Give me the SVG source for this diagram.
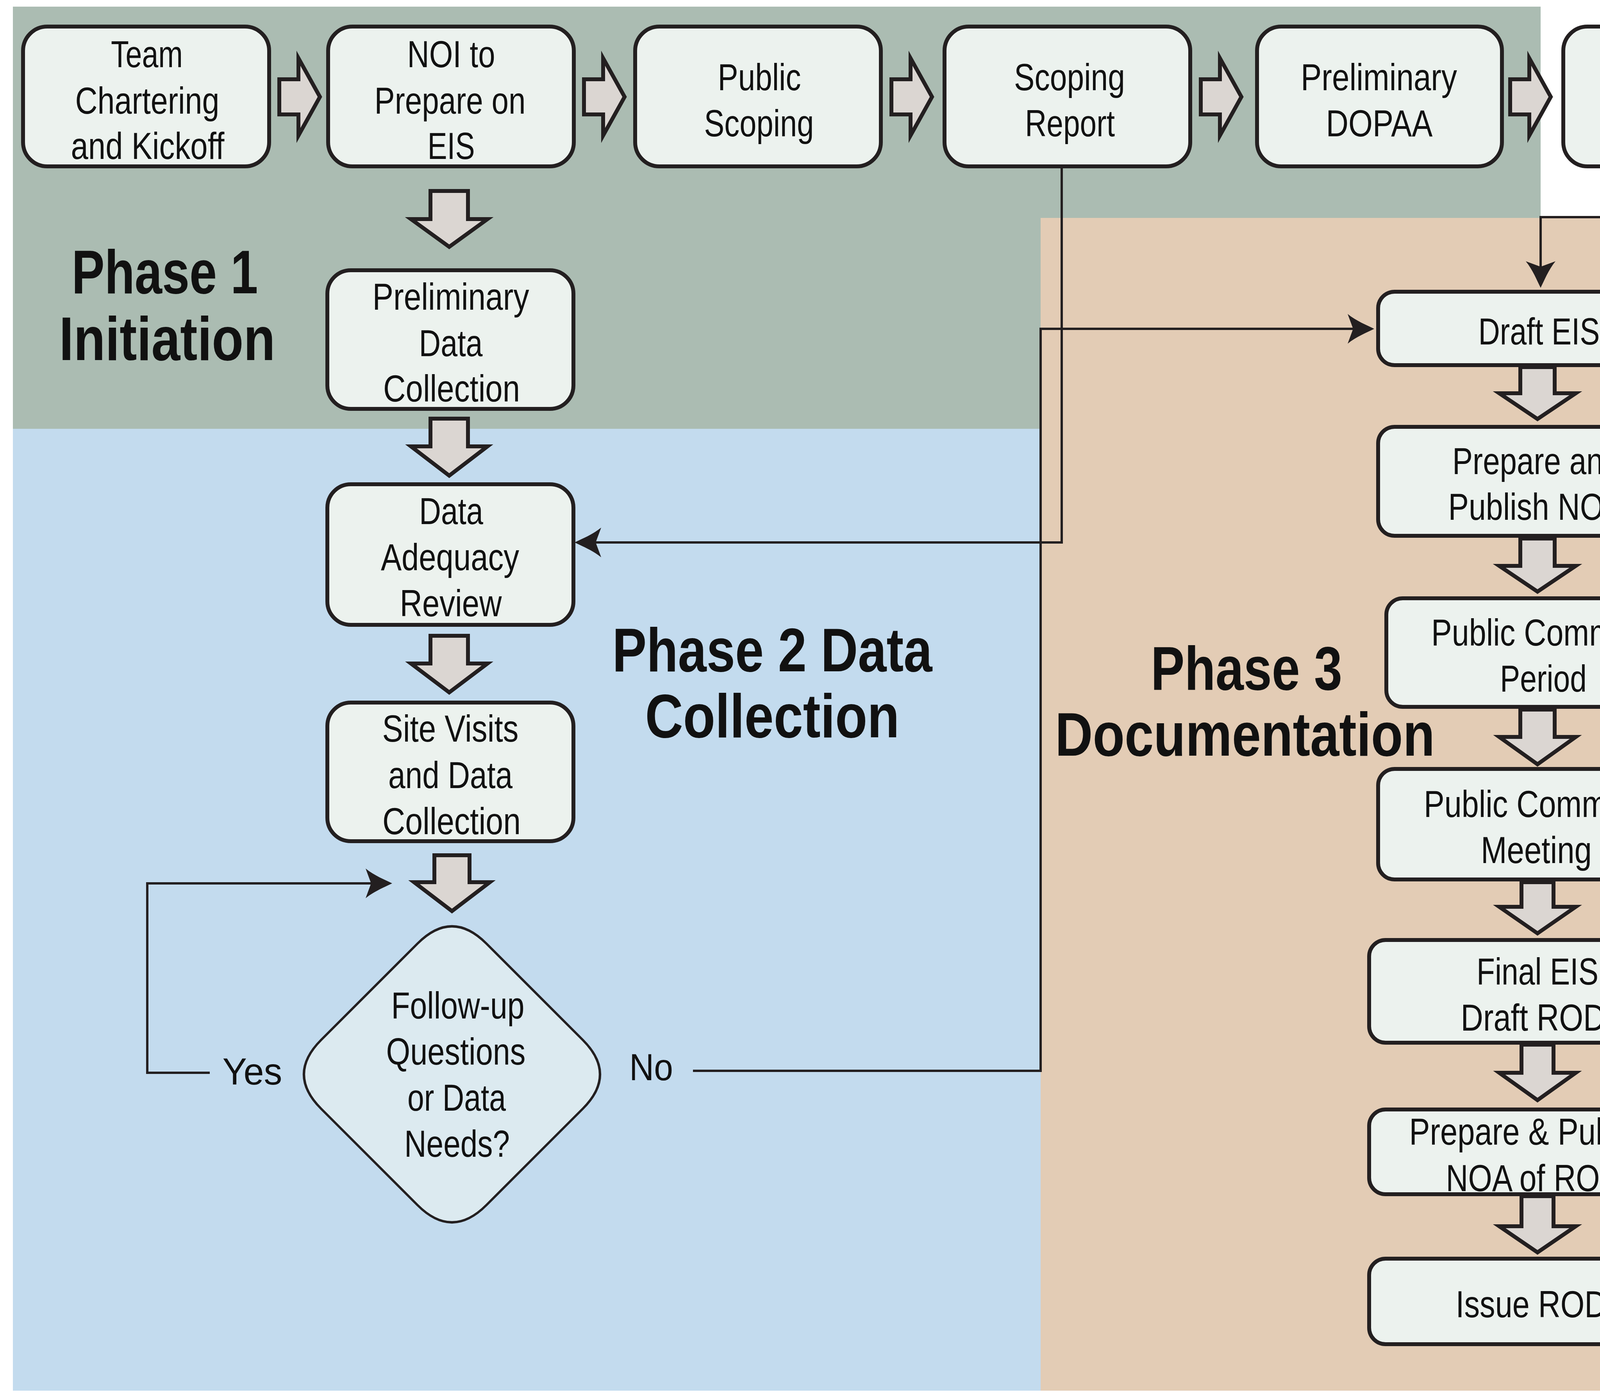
<svg xmlns="http://www.w3.org/2000/svg" width="5185" height="3567" viewBox="0 0 5185 3567">
<style>
.node{fill:#ecf2ee;stroke:#231f20;stroke-width:10}
.dia{fill:#dceaf0;stroke:#231f20;stroke-width:6}
.blk{fill:#dbd6d2;stroke:#231f20;stroke-width:10;stroke-linejoin:miter}
.con{fill:none;stroke:#231f20;stroke-width:6}
.t{font-family:"Liberation Sans Narrow","Liberation Sans",Arial,sans-serif;font-size:96px;fill:#111;text-anchor:middle}
.h{font-family:"Liberation Sans Narrow","Liberation Sans",Arial,sans-serif;font-size:158px;font-weight:bold;fill:#111;text-anchor:middle}
</style>
<defs>
<marker id="ah" markerUnits="userSpaceOnUse" viewBox="0 0 70 80" refX="50" refY="40" markerWidth="70" markerHeight="80" orient="auto">
<path d="M70,40 C52,31 24,20 2,2 L16,40 L2,78 C24,60 52,49 70,40 Z" fill="#231f20"/>
</marker>
</defs>
<rect width="5185" height="3567" fill="#ffffff"/>
<g id="backgrounds">
<rect x="33" y="17" width="3911" height="1081" fill="#abbcb2"/>
<rect x="33" y="1098" width="2631" height="2463" fill="#c3dbee"/>
<rect x="2664" y="558" width="2521" height="3003" fill="#e3ccb5"/>
</g>
<g id="phase-labels">
<text class="h" x="422" y="751" textLength="477" lengthAdjust="spacingAndGlyphs">Phase 1</text>
<text class="h" x="428" y="922" textLength="553" lengthAdjust="spacingAndGlyphs">Initiation</text>
<text class="h" x="1977" y="1719" textLength="819" lengthAdjust="spacingAndGlyphs">Phase 2 Data</text>
<text class="h" x="1977" y="1888" textLength="651" lengthAdjust="spacingAndGlyphs">Collection</text>
<text class="h" x="3191" y="1766" textLength="490" lengthAdjust="spacingAndGlyphs">Phase 3</text>
<text class="h" x="3187" y="1935" textLength="972" lengthAdjust="spacingAndGlyphs">Documentation</text>
</g>
<g id="connectors">
<path class="con" d="M2718,431 V1389 H1491" marker-end="url(#ah)"/>
<path class="con" d="M4305,431 V556 H3944 V717" marker-end="url(#ah)"/>
<path class="con" d="M1774,2742 H2664 V842 H3498" marker-end="url(#ah)"/>
<path class="con" d="M537,2747 H377 V2262 H984" marker-end="url(#ah)"/>
</g>
<g id="n-team"><rect class="node" x="59" y="68" width="630" height="358" rx="62"/>
<text class="t" x="376" y="172" textLength="184" lengthAdjust="spacingAndGlyphs">Team</text>
<text class="t" x="377" y="291" textLength="369" lengthAdjust="spacingAndGlyphs">Chartering</text>
<text class="t" x="378" y="407" textLength="393" lengthAdjust="spacingAndGlyphs">and Kickoff</text></g>
<g id="n-noi"><rect class="node" x="840" y="68" width="629" height="358" rx="62"/>
<text class="t" x="1155" y="172" textLength="225" lengthAdjust="spacingAndGlyphs">NOI to</text>
<text class="t" x="1152" y="291" textLength="387" lengthAdjust="spacingAndGlyphs">Prepare on</text>
<text class="t" x="1155" y="407" textLength="121" lengthAdjust="spacingAndGlyphs">EIS</text></g>
<g id="n-public-scoping"><rect class="node" x="1626" y="68" width="629" height="358" rx="62"/>
<text class="t" x="1944" y="231" textLength="213" lengthAdjust="spacingAndGlyphs">Public</text>
<text class="t" x="1943" y="349" textLength="281" lengthAdjust="spacingAndGlyphs">Scoping</text></g>
<g id="n-scoping-report"><rect class="node" x="2418" y="68" width="629" height="358" rx="62"/>
<text class="t" x="2738" y="231" textLength="284" lengthAdjust="spacingAndGlyphs">Scoping</text>
<text class="t" x="2739" y="349" textLength="230" lengthAdjust="spacingAndGlyphs">Report</text></g>
<g id="n-prelim-dopaa"><rect class="node" x="3218" y="68" width="627" height="358" rx="62"/>
<text class="t" x="3530" y="231" textLength="400" lengthAdjust="spacingAndGlyphs">Preliminary</text>
<text class="t" x="3531" y="349" textLength="273" lengthAdjust="spacingAndGlyphs">DOPAA</text></g>
<g id="n-final-dopaa"><rect class="node" x="4002" y="68" width="628" height="358" rx="62"/>
<text class="t" x="4318" y="231" textLength="165" lengthAdjust="spacingAndGlyphs">Final</text>
<text class="t" x="4321" y="349" textLength="273" lengthAdjust="spacingAndGlyphs">DOPAA</text></g>
<g id="n-prelim-data"><rect class="node" x="838" y="692" width="630" height="355" rx="60"/>
<text class="t" x="1154" y="793" textLength="401" lengthAdjust="spacingAndGlyphs">Preliminary</text>
<text class="t" x="1154" y="912" textLength="163" lengthAdjust="spacingAndGlyphs">Data</text>
<text class="t" x="1156" y="1028" textLength="350" lengthAdjust="spacingAndGlyphs">Collection</text></g>
<g id="n-data-adequacy"><rect class="node" x="838" y="1240" width="630" height="360" rx="60"/>
<text class="t" x="1155" y="1342" textLength="164" lengthAdjust="spacingAndGlyphs">Data</text>
<text class="t" x="1152" y="1460" textLength="354" lengthAdjust="spacingAndGlyphs">Adequacy</text>
<text class="t" x="1154" y="1578" textLength="261" lengthAdjust="spacingAndGlyphs">Review</text></g>
<g id="n-site-visits"><rect class="node" x="838" y="1799" width="630" height="355" rx="60"/>
<text class="t" x="1153" y="1899" textLength="349" lengthAdjust="spacingAndGlyphs">Site Visits</text>
<text class="t" x="1153" y="2018" textLength="318" lengthAdjust="spacingAndGlyphs">and Data</text>
<text class="t" x="1156" y="2136" textLength="354" lengthAdjust="spacingAndGlyphs">Collection</text></g>
<g id="n-decision"><path class="dia" d="M1069,2416 Q1157,2328 1245,2416 L1492,2663 Q1580,2751 1492,2839 L1245,3086 Q1157,3174 1069,3086 L822,2839 Q734,2751 822,2663 Z"/>
<text class="t" x="1172" y="2608" textLength="341" lengthAdjust="spacingAndGlyphs">Follow-up</text>
<text class="t" x="1167" y="2726" textLength="357" lengthAdjust="spacingAndGlyphs">Questions</text>
<text class="t" x="1169" y="2844" textLength="252" lengthAdjust="spacingAndGlyphs">or Data</text>
<text class="t" x="1170" y="2962" textLength="270" lengthAdjust="spacingAndGlyphs">Needs?</text></g>
<g id="labels-yes-no">
<text class="t" x="646" y="2777" textLength="153" lengthAdjust="spacingAndGlyphs">Yes</text>
<text class="t" x="1667" y="2766" textLength="112" lengthAdjust="spacingAndGlyphs">No</text>
</g>
<g id="n-draft-eis"><rect class="node" x="3528" y="747" width="814" height="188" rx="42"/>
<text class="t" x="3940" y="882" textLength="311" lengthAdjust="spacingAndGlyphs">Draft EIS</text></g>
<g id="n-noa"><rect class="node" x="3528" y="1093" width="807" height="279" rx="42"/>
<text class="t" x="3933" y="1214" textLength="430" lengthAdjust="spacingAndGlyphs">Prepare and</text>
<text class="t" x="3933" y="1331" textLength="451" lengthAdjust="spacingAndGlyphs">Publish NOA</text></g>
<g id="n-comment-period"><rect class="node" x="3549" y="1532" width="805" height="278" rx="42"/>
<text class="t" x="3954" y="1653" textLength="580" lengthAdjust="spacingAndGlyphs">Public Comment</text>
<text class="t" x="3951" y="1771" textLength="222" lengthAdjust="spacingAndGlyphs">Period</text></g>
<g id="n-comment-meeting"><rect class="node" x="3528" y="1969" width="807" height="283" rx="42"/>
<text class="t" x="3935" y="2092" textLength="580" lengthAdjust="spacingAndGlyphs">Public Comment</text>
<text class="t" x="3933" y="2210" textLength="284" lengthAdjust="spacingAndGlyphs">Meeting</text></g>
<g id="n-final-eis"><rect class="node" x="3505" y="2407" width="845" height="263" rx="42"/>
<text class="t" x="3936" y="2521" textLength="312" lengthAdjust="spacingAndGlyphs">Final EIS</text>
<text class="t" x="3925" y="2639" textLength="371" lengthAdjust="spacingAndGlyphs">Draft ROD</text></g>
<g id="n-noa-rod"><rect class="node" x="3505" y="2841" width="836" height="217" rx="42"/>
<text class="t" x="3928" y="2931" textLength="641" lengthAdjust="spacingAndGlyphs">Prepare &amp; Publish</text>
<text class="t" x="3927" y="3050" textLength="451" lengthAdjust="spacingAndGlyphs">NOA of ROD</text></g>
<g id="n-issue-rod"><rect class="node" x="3505" y="3223" width="831" height="219" rx="42"/>
<text class="t" x="3920" y="3373" textLength="387" lengthAdjust="spacingAndGlyphs">Issue ROD</text></g>
<g id="n-admin-record"><rect class="node" x="4537" y="3174" width="634" height="356" rx="58"/>
<text class="t" x="4848" y="3333" textLength="500" lengthAdjust="spacingAndGlyphs">Administrative</text>
<text class="t" x="4852" y="3452" textLength="244" lengthAdjust="spacingAndGlyphs">Record</text></g>
<g id="block-arrows">
<path class="blk" d="M715,203 H764 V149 L819,248 L764,347 V293 H715 Z"/>
<path class="blk" d="M1495,203 H1544 V149 L1599,248 L1544,347 V293 H1495 Z"/>
<path class="blk" d="M2282,203 H2331 V149 L2386,248 L2331,347 V293 H2282 Z"/>
<path class="blk" d="M3074,203 H3123 V149 L3178,248 L3123,347 V293 H3074 Z"/>
<path class="blk" d="M3866,203 H3915 V149 L3970,248 L3915,347 V293 H3866 Z"/>
<path class="blk" d="M4365,3303 H4437 V3253 L4512,3350 L4437,3447 V3397 H4365 Z"/>
<path class="blk" d="M1102,489 V561 H1052 L1150,632 L1248,561 H1198 V489 Z"/>
<path class="blk" d="M1102,1072 V1143 H1052 L1150,1218 L1248,1143 H1198 V1072 Z"/>
<path class="blk" d="M1102,1628 V1699 H1052 L1150,1773 L1248,1699 H1198 V1628 Z"/>
<path class="blk" d="M1112,2190 V2259 H1060 L1157,2333 L1254,2259 H1202 V2190 Z"/>
<path class="blk" d="M3892,940 V1007 H3838 L3936,1073 L4034,1007 H3980 V940 Z"/>
<path class="blk" d="M3892,1379 V1449 H3838 L3936,1515 L4034,1449 H3980 V1379 Z"/>
<path class="blk" d="M3892,1817 V1887 H3838 L3936,1957 L4034,1887 H3980 V1817 Z"/>
<path class="blk" d="M3895,2259 V2322 H3838 L3936,2390 L4034,2322 H3977 V2259 Z"/>
<path class="blk" d="M3895,2675 V2747 H3838 L3936,2817 L4034,2747 H3977 V2675 Z"/>
<path class="blk" d="M3895,3063 V3140 H3838 L3936,3207 L4034,3140 H3977 V3063 Z"/>
</g>
</svg>
